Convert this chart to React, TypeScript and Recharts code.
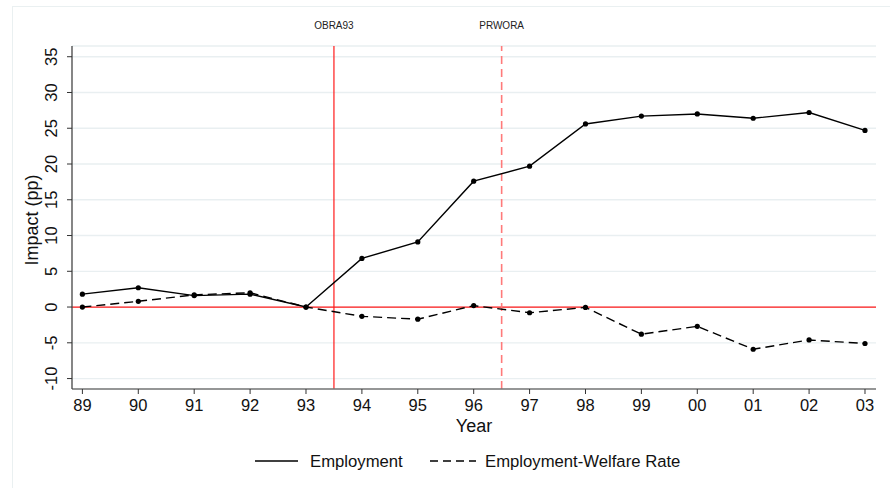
import React from 'react';
import { ComposedChart, Line, XAxis, YAxis, CartesianGrid, ReferenceLine } from 'recharts';

const years = ['89', '90', '91', '92', '93', '94', '95', '96', '97', '98', '99', '00', '01', '02', '03'];
const employment = [1.8, 2.7, 1.6, 1.8, 0.0, 6.8, 9.1, 17.6, 19.7, 25.6, 26.7, 27.0, 26.4, 27.2, 24.7];
const employmentWelfare = [0.0, 0.8, 1.7, 2.0, 0.0, -1.3, -1.7, 0.2, -0.8, -0.05, -3.8, -2.7, -5.9, -4.6, -5.1];
const yTicks = [-10, -5, 0, 5, 10, 15, 20, 25, 30, 35];
const xTicks = years.map((_, i) => i);
const policyLines = [
  { at: 4.5, label: 'OBRA93' },
  { at: 7.5, label: 'PRWORA' },
];

const data = years.map((y, i) => ({ i, year: y, emp: employment[i], ew: employmentWelfare[i] }));

const FONT = '"Liberation Sans", Arial, Helvetica, sans-serif';

const YTick = (props: any) => {
  const { x, y, payload } = props;
  return (
    <text
      transform={`translate(${x - 14},${y}) rotate(-90)`}
      textAnchor="middle"
      dominantBaseline="central"
      fontSize={16.5}
      fill="#111"
      fontFamily={FONT}
    >
      {payload.value}
    </text>
  );
};

const XTick = (props: any) => {
  const { x, y, payload } = props;
  return (
    <text x={x} y={y + 9} textAnchor="middle" dominantBaseline="central" fontSize={16.5} fill="#111" fontFamily={FONT}>
      {years[payload.value]}
    </text>
  );
};

export default function App() {
  return (
    <div style={{ position: 'absolute', left: 0, top: 0, width: 890, height: 488, background: '#fff', fontFamily: FONT, overflow: 'hidden' }}>
      <div style={{ position: 'absolute', left: 12, top: 6, width: 878, height: 482, borderLeft: '1px solid #eaf0f1', borderTop: '1px solid #eaf0f1' }} />
      <ComposedChart
        width={890}
        height={488}
        data={data}
        margin={{ top: 46, right: 14, bottom: 69, left: 12 }}
        style={{ position: 'absolute', left: 0, top: 0 }}
      >
        <CartesianGrid horizontal vertical={false} stroke="#e9eff1" strokeWidth={1.3} />
        <XAxis
          dataKey="i"
          type="number"
          domain={[-0.186, 14.197]}
          allowDataOverflow
          ticks={xTicks}
          interval={0}
          tick={<XTick />}
          tickLine={{ stroke: '#333' }}
          tickSize={5}
          axisLine={{ stroke: '#777', strokeWidth: 1.5 }}
          height={30}
          label={{ value: 'Year', position: 'insideBottom', offset: -13, fontSize: 18, fill: '#111', fontFamily: FONT }}
        />
        <YAxis
          type="number"
          domain={[-11.46, 36.5]}
          allowDataOverflow
          ticks={yTicks}
          interval={0}
          tick={<YTick />}
          tickLine={{ stroke: '#333' }}
          tickSize={5}
          axisLine={{ stroke: '#444', strokeWidth: 1.3 }}
          width={60}
          label={{ value: 'Impact (pp)', angle: -90, position: 'insideLeft', offset: 20, dy: 48, fontSize: 18, fill: '#111', fontFamily: FONT }}
        />
        <ReferenceLine y={0} stroke="#ff1a1a" strokeWidth={1.2} />
        <ReferenceLine
          x={policyLines[0].at}
          stroke="#ff1a1a"
          strokeWidth={1.2}
          label={{ value: policyLines[0].label, position: 'top', offset: 17, fontSize: 10, fill: '#222', fontFamily: FONT }}
        />
        <ReferenceLine
          x={policyLines[1].at}
          stroke="#ff7a7a"
          strokeWidth={1.6}
          strokeDasharray="8 5"
          label={{ value: policyLines[1].label, position: 'top', offset: 17, fontSize: 10, fill: '#222', fontFamily: FONT }}
        />
        <Line
          dataKey="emp"
          stroke="#000"
          strokeWidth={1.4}
          dot={{ r: 2.6, fill: '#000', stroke: '#000', strokeWidth: 0 }}
          isAnimationActive={false}
          type="linear"
        />
        <Line
          dataKey="ew"
          stroke="#000"
          strokeWidth={1.4}
          strokeDasharray="9 5"
          dot={{ r: 2.6, fill: '#000', stroke: '#000', strokeWidth: 0, strokeDasharray: '' }}
          isAnimationActive={false}
          type="linear"
        />
      </ComposedChart>
      <div style={{ position: 'absolute', left: 0, top: 450, width: 890, height: 24 }}>
        <svg width={890} height={24} style={{ position: 'absolute', left: 0, top: 0 }}>
          <line x1={255} y1={11} x2={298} y2={11} stroke="#000" strokeWidth={1.4} />
          <line x1={430} y1={11} x2={476} y2={11} stroke="#000" strokeWidth={1.4} strokeDasharray="8 5" />
          <text x={310} y={11} dominantBaseline="central" fontSize={16.7} fill="#111" fontFamily={FONT}>Employment</text>
          <text x={485} y={11} dominantBaseline="central" fontSize={16.7} fill="#111" fontFamily={FONT}>Employment-Welfare Rate</text>
        </svg>
      </div>
    </div>
  );
}
